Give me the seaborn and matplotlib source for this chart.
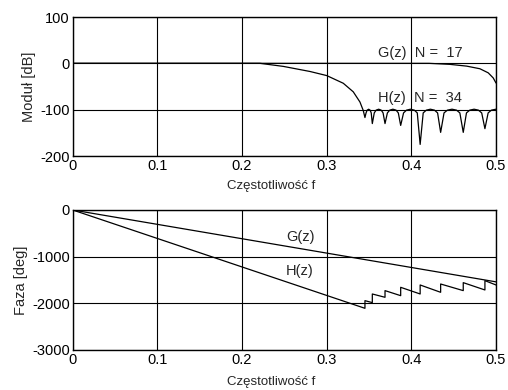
import numpy as np
import pandas as pd
import matplotlib
matplotlib.use("Agg")
import matplotlib.pyplot as plt
import seaborn as sns

# magnitude of H(z), N = 34 (passband, transition, stopband lobes)
h_mag_f = [0.0, 0.2212, 0.2488, 0.2803, 0.3, 0.3196, 0.3314, 0.3393, 0.3432, 0.3452,
           0.3465, 0.3478, 0.3496, 0.3513, 0.3526, 0.3539,
           0.3562, 0.3584, 0.3614, 0.3644, 0.3666, 0.3689,
           0.3717, 0.3745, 0.3782, 0.3819, 0.3846, 0.3874,
           0.3908, 0.3943, 0.3989, 0.4035, 0.4070, 0.4104,
           0.4140, 0.4177, 0.4225, 0.4273, 0.4310, 0.4346,
           0.4386, 0.4426, 0.4480, 0.4533, 0.4573, 0.4613,
           0.4651, 0.4690, 0.4741, 0.4792, 0.4831, 0.4869,
           0.4907, 0.4946, 0.5]
h_mag_db = [0.0, 0.0, -6.6, -17.6, -26.4, -43.0, -61.5, -83.5, -101.8, -117.0,
            -107, -101, -99, -101, -107, -130,
            -107, -101, -99, -101, -107, -130,
            -107, -101, -99, -101, -107, -134,
            -107, -101, -99, -101, -107, -175,
            -107, -101, -99, -101, -107, -149,
            -107, -101, -99, -101, -107, -149,
            -107, -101, -99, -101, -107, -141,
            -107, -101, -99]

# magnitude of G(z), N = 17
g_mag_f = [0.0, 0.4208, 0.4456, 0.4653, 0.481, 0.4908, 0.4967, 0.5]
g_mag_db = [0.0, 0.0, -2.2, -6.0, -11.7, -20.5, -31.5, -42.5]

# phase
g_ph_f = [0.0, 0.5]
g_ph_deg = [0.0, -1540.0]

h_ph_f = [0.0, 0.3452, 0.3452, 0.3539, 0.3539, 0.3689, 0.3689, 0.3874, 0.3874,
          0.4104, 0.4104, 0.4346, 0.4346, 0.4613, 0.4613, 0.4869, 0.4869, 0.5]
h_ph_deg = [0.0, -2107, -1943, -1985, -1800, -1871, -1728, -1836, -1657,
            -1800, -1607, -1764, -1586, -1728, -1557, -1714, -1514, -1607]

xticks = [0, 0.1, 0.2, 0.3, 0.4, 0.5]
xticklabels = ["0", "0.1", "0.2", "0.3", "0.4", "0.5"]

sns.set_style("white")
plt.rcParams['font.family'] = ['Liberation Sans', 'DejaVu Sans']
plt.rcParams['axes.unicode_minus'] = False

fig = plt.figure(figsize=(5.08, 3.90), dpi=100)
ax1 = fig.add_axes([0.1431, 0.6, 0.8333, 0.3564])
ax2 = fig.add_axes([0.1431, 0.1026, 0.8333, 0.359])

kw = dict(color="black", linewidth=0.9, estimator=None, sort=False, legend=False)

sns.lineplot(x=h_mag_f, y=h_mag_db, ax=ax1, **kw)
sns.lineplot(x=g_mag_f, y=g_mag_db, ax=ax1, **kw)
sns.lineplot(x=g_ph_f, y=g_ph_deg, ax=ax2, **kw)
sns.lineplot(x=h_ph_f, y=h_ph_deg, ax=ax2, **kw)

ax1.set_ylim(-200, 100)
ax1.set_yticks([-200, -100, 0, 100])
ax1.set_ylabel("Moduł [dB]", labelpad=3, fontsize=10.5)
ax1.text(0.361, 23, "G(z)  N =  17", va="center", ha="left", fontsize=10.5)
ax1.text(0.361, -75, "H(z)  N =  34", va="center", ha="left", fontsize=10.5)

ax2.set_ylim(-3000, 0)
ax2.set_yticks([-3000, -2000, -1000, 0])
ax2.set_ylabel("Faza [deg]", labelpad=3, fontsize=10.5)
ax2.text(0.252, -570, "G(z)", va="center", ha="left", fontsize=10.5)
ax2.text(0.252, -1310, "H(z)", va="center", ha="left", fontsize=10.5)

for ax, ly in ((ax1, -0.216), (ax2, -0.229)):
    ax.set_xlim(0, 0.5)
    ax.set_xticks(xticks)
    ax.set_xticklabels(xticklabels)
    ax.set_xlabel("Częstotliwość f", fontsize=9.5)
    ax.xaxis.label.set_va("center")
    ax.xaxis.set_label_coords(0.468, ly)
    ax.grid(True, color="black", linewidth=0.8)
    ax.tick_params(direction="in", length=3, pad=2, labelsize=10.5, colors="black")
    for s in ax.spines.values():
        s.set_color("black")
        s.set_linewidth(1.0)

fig.savefig("out.png", dpi=100)
